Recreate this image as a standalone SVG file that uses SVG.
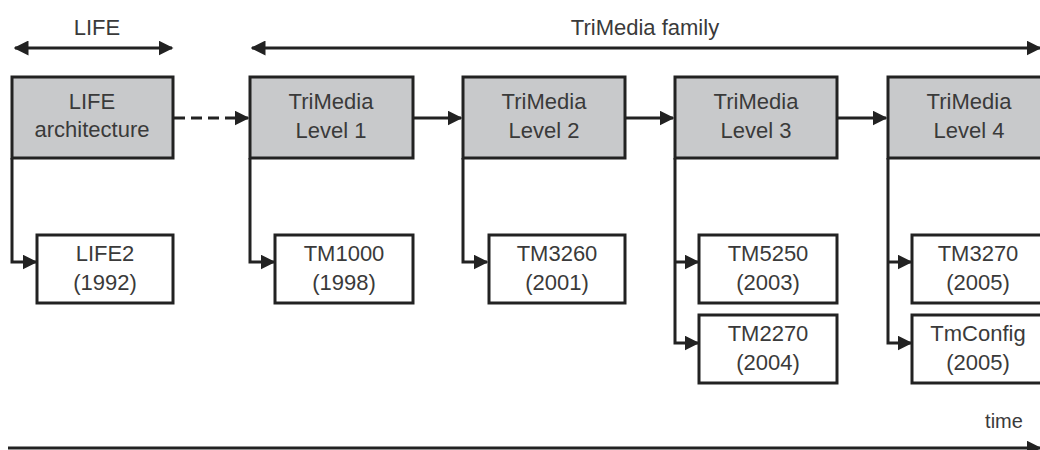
<svg xmlns="http://www.w3.org/2000/svg" width="1040" height="450" viewBox="0 0 1040 450">
<defs>
<style>
text{font-family:"Liberation Sans",Arial,sans-serif;font-size:22px;fill:#3a3a3a;text-anchor:middle}
.lvl{fill:#c8c9cb;stroke:#222;stroke-width:3}
.chip{fill:#fff;stroke:#222;stroke-width:3}
.c{fill:none;stroke:#222;stroke-width:3}
.d{fill:none;stroke:#222;stroke-width:3;stroke-dasharray:11,6}
.t{font-size:20px}
</style>
<marker id="ah" viewBox="0 0 10 10" refX="9" refY="5" markerWidth="5" markerHeight="5" orient="auto-start-reverse" markerUnits="strokeWidth">
<path d="M0,0 L10,5 L0,10 z" fill="#222"/>
</marker>
</defs>
<rect width="1040" height="450" fill="#fff"/>
<g id="connectors">
<line class="c" x1="15" y1="48" x2="172" y2="48" marker-start="url(#ah)" marker-end="url(#ah)"/>
<line class="c" x1="252" y1="48" x2="1040" y2="48" marker-start="url(#ah)" marker-end="url(#ah)"/>
<line class="d" x1="174" y1="118" x2="248" y2="118" marker-end="url(#ah)"/>
<line class="c" x1="413" y1="118" x2="461" y2="118" marker-end="url(#ah)"/>
<line class="c" x1="625" y1="118" x2="673" y2="118" marker-end="url(#ah)"/>
<line class="c" x1="837" y1="118" x2="886" y2="118" marker-end="url(#ah)"/>
<polyline class="c" points="12,158 12,262 36,262" marker-end="url(#ah)"/>
<polyline class="c" points="250,158 250,262 274,262" marker-end="url(#ah)"/>
<polyline class="c" points="463,158 463,262 487,262" marker-end="url(#ah)"/>
<polyline class="c" points="675,158 675,343 698,343" marker-end="url(#ah)"/>
<line class="c" x1="675" y1="262" x2="698" y2="262" marker-end="url(#ah)"/>
<polyline class="c" points="888,158 888,343 911,343" marker-end="url(#ah)"/>
<line class="c" x1="888" y1="262" x2="911" y2="262" marker-end="url(#ah)"/>
<line class="c" x1="8" y1="448" x2="1040" y2="448" marker-end="url(#ah)"/>
</g>
<text x="97" y="35">LIFE</text>
<text x="645" y="35">TriMedia family</text>
<text class="t" x="1004" y="428">time</text>
<g id="life-arch"><rect class="lvl" x="12" y="77" width="161" height="81"/><text x="92" y="109">LIFE</text><text x="92" y="137">architecture</text></g>
<g id="level1"><rect class="lvl" x="250" y="77" width="163" height="81"/><text x="331" y="109">TriMedia</text><text x="331" y="138">Level 1</text></g>
<g id="level2"><rect class="lvl" x="463" y="77" width="162" height="81"/><text x="544" y="109">TriMedia</text><text x="544" y="138">Level 2</text></g>
<g id="level3"><rect class="lvl" x="675" y="77" width="162" height="81"/><text x="756" y="109">TriMedia</text><text x="756" y="138">Level 3</text></g>
<g id="level4"><rect class="lvl" x="888" y="77" width="170" height="81"/><text x="969" y="109">TriMedia</text><text x="969" y="138">Level 4</text></g>
<g id="life2"><rect class="chip" x="37" y="235" width="136" height="68"/><text x="105" y="261">LIFE2</text><text x="105" y="290">(1992)</text></g>
<g id="tm1000"><rect class="chip" x="275" y="235" width="138" height="68"/><text x="344" y="261">TM1000</text><text x="344" y="290">(1998)</text></g>
<g id="tm3260"><rect class="chip" x="489" y="235" width="136" height="68"/><text x="557" y="261">TM3260</text><text x="557" y="290">(2001)</text></g>
<g id="tm5250"><rect class="chip" x="699" y="235" width="138" height="68"/><text x="768" y="261">TM5250</text><text x="768" y="290">(2003)</text></g>
<g id="tm2270"><rect class="chip" x="699" y="315" width="138" height="68"/><text x="768" y="341">TM2270</text><text x="768" y="370">(2004)</text></g>
<g id="tm3270"><rect class="chip" x="912" y="235" width="140" height="68"/><text x="978" y="261">TM3270</text><text x="978" y="290">(2005)</text></g>
<g id="tmconfig"><rect class="chip" x="912" y="315" width="140" height="68"/><text x="978" y="341">TmConfig</text><text x="978" y="370">(2005)</text></g>
</svg>
